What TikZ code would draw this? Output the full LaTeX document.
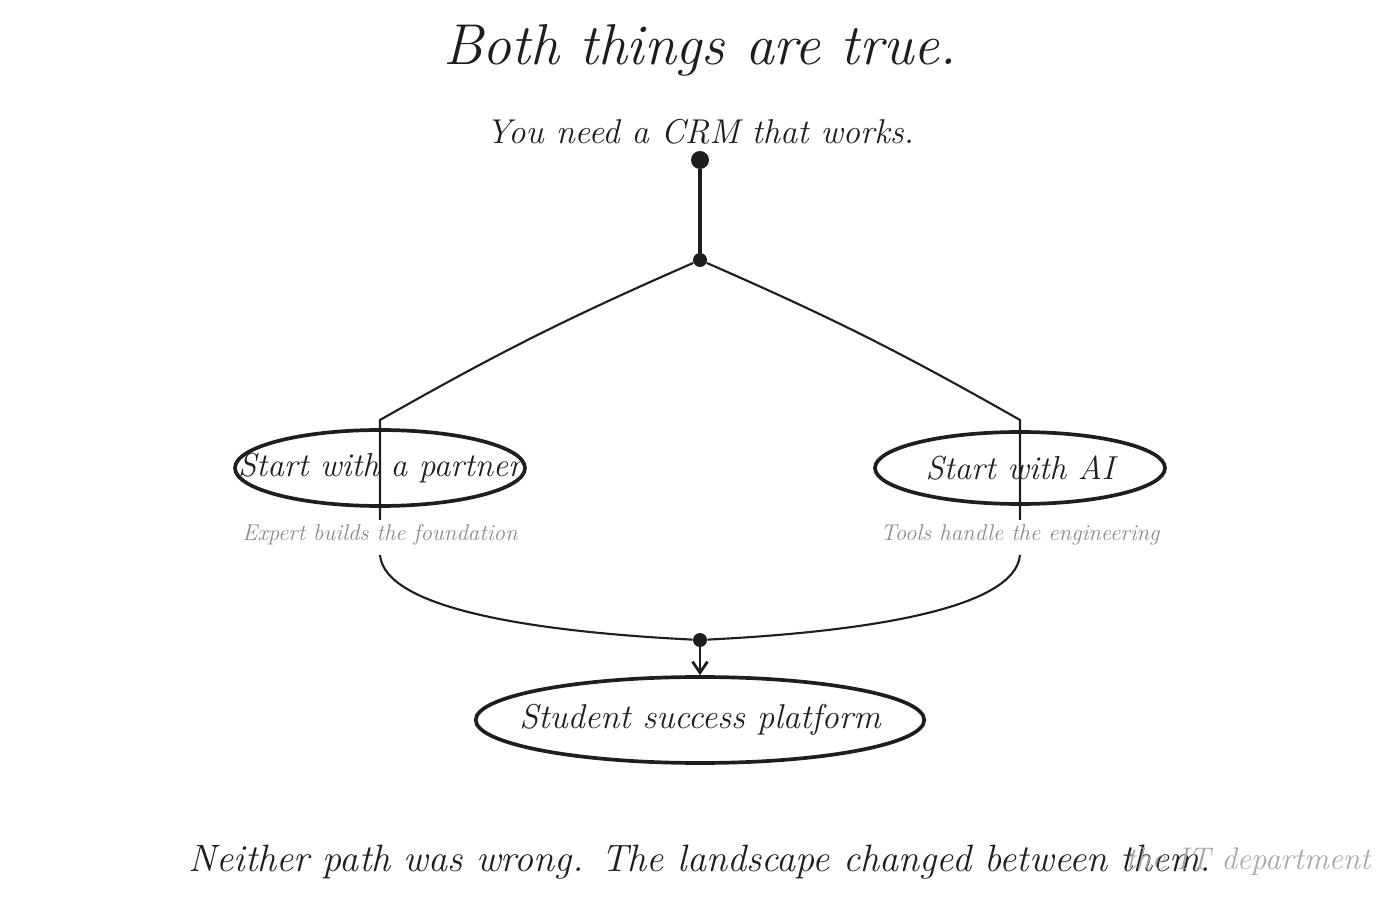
\documentclass[tikz,border=0pt]{standalone}
\usepackage{tikz}
\usepackage{xcolor}
\usetikzlibrary{arrows.meta,positioning,shapes.geometric,calc}
\definecolor{inkblack}{HTML}{1E1E1E}
\definecolor{inkgrey}{HTML}{8A8A8A}
\definecolor{inkpale}{HTML}{A8A8A8}
\tikzset{
  hand/.style         = {font=\itshape, text=inkblack, inner sep=0pt},
  oval/.style         = {ellipse, draw=inkblack, line width=2.1pt, inner ysep=0pt,
                         font=\itshape, text=inkblack},
  sub/.style          = {font=\itshape\fontsize{13}{15}\selectfont,
                         text=inkgrey, inner sep=0pt},
  bigdot/.style       = {circle, fill=inkblack, minimum size=18*0.02cm, inner sep=0pt},
  smalldot/.style     = {circle, fill=inkblack, minimum size=14*0.02cm, inner sep=0pt},
  %
  link/.style         = {draw=inkblack, line width=1.2pt},
  stem/.style         = {draw=inkblack, line width=2.2pt},
  arrowlink/.style    = {-{Straight Barb[length=2.2mm,width=3mm]}, draw=inkblack,
                         line width=1.6pt},
}

\begin{document}
\begin{tikzpicture}[x=0.02cm, y=0.02cm]
  \useasboundingbox (0,0) rectangle (1400,900);

  % ---------- headings ----------------------------------------------------
  \node[hand, font=\itshape\fontsize{32.8}{36}\selectfont] (title) at (700,850)
      {Both things are true.};
  \node[hand, font=\itshape\fontsize{19.6}{24}\selectfont] (need) at (700,768)
      {You need a CRM that works.};

  % ---------- fork --------------------------------------------------------
  \node[bigdot]   (top)   at (700,740) {};
  \node[smalldot] (split) at (700,640) {};
  \coordinate (lcorner) at (380,480);
  \coordinate (rcorner) at (1020,480);
  \coordinate (lend)    at (380,380);
  \coordinate (rend)    at (1020,380);

  % ---------- the two paths -----------------------------------------------
  \node[oval, inner xsep=-40*0.02cm, minimum width=290*0.02cm,
        minimum height=76*0.02cm, font=\itshape\fontsize{18.9}{22}\selectfont]
      (partner) at (380,432) {Start with a partner};
  \node[oval, inner xsep=0pt, minimum width=290*0.02cm,
        minimum height=72*0.02cm, font=\itshape\fontsize{18.9}{22}\selectfont]
      (ai) at (1020,432) {Start with AI};
  \node[sub] (partnersub) at (380,365) {Expert builds the foundation};
  \node[sub] (aisub)      at (1020,365) {Tools handle the engineering};

  \draw[stem] (top) -- (split);
  \draw[link] (split) to[bend right=3] (lcorner) -- (lend);
  \draw[link] (split) to[bend left=3] (rcorner) -- (rend);

  % ---------- merge -------------------------------------------------------
  \coordinate (lstart) at (380,345);
  \coordinate (rstart) at (1020,345);
  \node[smalldot] (merge) at (700,260) {};
  \draw[link] (lstart) .. controls (385,290) and (540,268) .. (merge);
  \draw[link] (rstart) .. controls (1015,290) and (860,268) .. (merge);

  \node[oval, inner xsep=-22*0.02cm, minimum width=440*0.02cm,
        minimum height=86*0.02cm, font=\itshape\fontsize{19.6}{22}\selectfont]
      (platform) at (700,180) {Student success platform};
  \draw[arrowlink] (merge) -- (platform);

  % ---------- closing line ------------------------------------------------
  \node[hand, font=\itshape\fontsize{21.7}{26}\selectfont] (closing) at (700,38)
      {Neither path was wrong. The landscape changed between them.};
  \node[hand, text=inkpale, font=\itshape\fontsize{17.8}{20}\selectfont]
      (dept) at (1248,38) {the IT department};

\end{tikzpicture}
\end{document}
